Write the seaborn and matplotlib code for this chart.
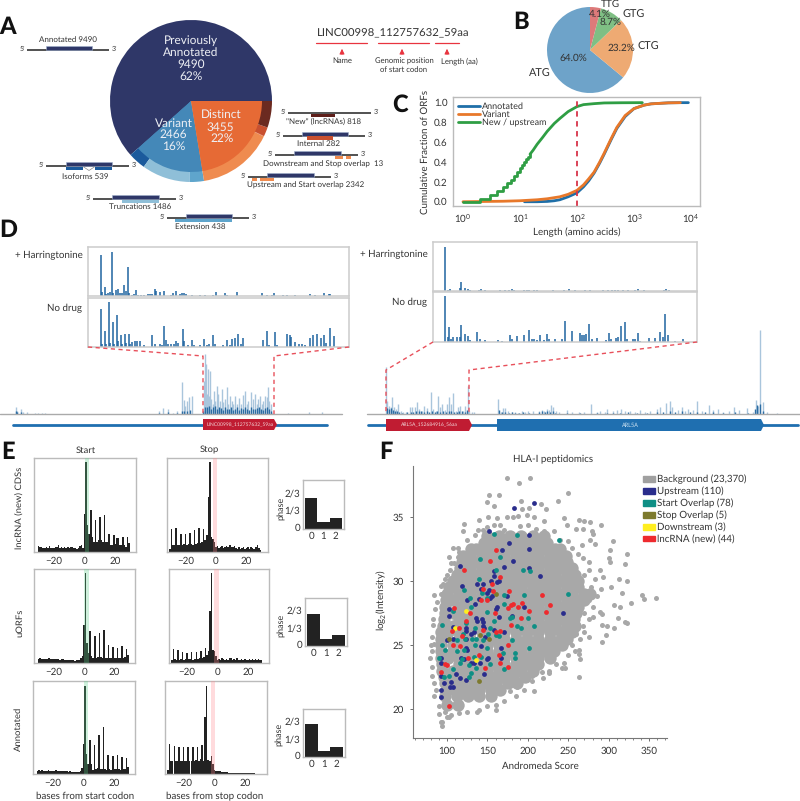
import numpy as np
import pandas as pd
import matplotlib
matplotlib.use('Agg')
import matplotlib.pyplot as plt
from matplotlib.patches import Patch, Polygon, Rectangle
from matplotlib.ticker import MultipleLocator, NullFormatter
import seaborn as sns

# panel A
orf_classes = [9490, 2466, 3455]
orf_subclasses = [9490, 539, 1486, 438, 2342, 13, 282, 818]

# panel B
codons = ['ATG', 'CTG', 'GTG', 'TTG']
codon_pct = [64.0, 23.2, 8.7, 4.1]

# panel C
annot_len = [12, 20, 30, 40, 50, 70, 100, 130, 160, 200, 250, 300, 400, 500, 700, 1000, 1500, 2000, 4000, 6500, 9000]
annot_cdf = [0, 0, 0.003, 0.01, 0.02, 0.05, 0.09, 0.15, 0.21, 0.29, 0.39, 0.48, 0.63, 0.74, 0.86, 0.94, 0.975, 0.988, 0.998, 1.0, 1.0]
variant_len = [1, 5, 10, 20, 30, 50, 70, 100, 130, 160, 200, 250, 300, 400, 500, 700, 1000, 1500, 2000, 4000, 6500]
variant_cdf = [0, 0.005, 0.01, 0.02, 0.03, 0.05, 0.075, 0.115, 0.17, 0.23, 0.3, 0.4, 0.49, 0.64, 0.75, 0.87, 0.94, 0.975, 0.988, 0.998, 1.0]
new_len = [1, 2, 3, 4, 5, 6, 7, 8, 9, 10, 11, 12, 13, 14, 15, 17, 20, 25, 30, 40, 50, 70, 100, 130, 200, 300, 600, 1400]
new_cdf = [0, 0.03, 0.07, 0.11, 0.15, 0.19, 0.22, 0.26, 0.30, 0.34, 0.37, 0.40, 0.43, 0.45, 0.48, 0.52, 0.58, 0.65, 0.71, 0.79, 0.84, 0.91, 0.96, 0.98, 0.99, 0.997, 0.999, 1.0]

# panel D, read in pixels of a 3x view of the figure
harr_l_x = [303, 306, 315, 318, 326, 330, 338, 341, 350, 355, 362, 366, 374, 378, 386, 389, 397, 402, 410, 415, 425, 432, 445, 450, 458, 465, 469, 480, 492, 513, 518, 527, 540, 546, 552, 558, 575, 600, 615, 640, 647, 676, 682, 712, 787, 800, 815, 822, 848, 860, 885, 930, 945, 972, 985, 990]
harr_l_h = [123, 12, 28, 6, 10, 12, 132, 8, 18, 22, 10, 10, 34, 14, 85, 10, 4, 6, 18, 3, 3, 3, 5, 5, 6, 22, 16, 12, 14, 3, 8, 14, 5, 9, 8, 6, 3, 3, 3, 4, 12, 8, 4, 11, 8, 4, 4, 10, 4, 3, 4, 5, 4, 8, 6, 7]
nodrug_l_x = [303, 307, 315, 320, 327, 331, 339, 343, 351, 356, 363, 368, 375, 380, 387, 391, 397, 405, 412, 422, 432, 458, 464, 480, 485, 492, 497, 503, 512, 522, 528, 535, 548, 552, 563, 576, 582, 600, 612, 620, 628, 640, 646, 668, 680, 690, 695, 706, 713, 722, 730, 788, 800, 806, 825, 832, 860, 868, 873, 885, 895, 905, 915, 930, 938, 950, 962, 970, 978, 990, 1000]
nodrug_l_h = [112, 10, 48, 8, 133, 12, 75, 8, 96, 18, 36, 10, 38, 12, 40, 8, 15, 17, 18, 18, 5, 36, 8, 10, 5, 62, 20, 10, 8, 8, 18, 12, 55, 18, 6, 20, 5, 6, 24, 6, 8, 36, 8, 6, 20, 6, 24, 28, 40, 8, 28, 22, 48, 5, 46, 5, 40, 36, 30, 16, 8, 10, 6, 28, 36, 38, 28, 36, 12, 58, 32]
harr_r_x = [197, 204, 211, 240, 245, 257, 264, 272, 297, 303, 317, 360, 375, 388, 396, 402, 432, 440, 447, 462, 472, 520, 552, 568, 585, 615, 630, 670, 685, 695, 705, 715, 730, 745, 765, 772, 790, 850, 858, 865]
harr_r_h = [132, 4, 7, 8, 28, 10, 5, 3, 3, 5, 3, 3, 3, 4, 6, 3, 3, 3, 4, 3, 3, 2, 2, 5, 2, 2, 2, 3, 3, 3, 4, 4, 2, 2, 4, 5, 2, 4, 6, 4]
nodrug_r_x = [197, 205, 209, 215, 221, 233, 240, 245, 257, 264, 272, 293, 302, 317, 355, 365, 389, 395, 412, 432, 448, 455, 462, 470, 480, 492, 500, 507, 526, 545, 556, 576, 600, 605, 612, 617, 628, 635, 650, 677, 687, 692, 708, 715, 724, 735, 742, 757, 765, 772, 780, 807, 823, 840, 847, 855, 863, 885, 908]
nodrug_r_h = [133, 16, 44, 10, 16, 14, 14, 50, 24, 18, 6, 28, 10, 6, 6, 3, 20, 8, 18, 20, 34, 10, 8, 6, 20, 6, 24, 10, 8, 8, 62, 32, 26, 20, 20, 22, 52, 8, 13, 6, 26, 10, 12, 16, 46, 58, 10, 8, 10, 26, 4, 12, 12, 28, 16, 82, 20, 4, 8]

track_l_x = [47, 52, 62, 70, 82, 105, 115, 125, 135, 478, 490, 505, 520, 530, 547, 551, 556, 562, 568, 575, 608, 612, 615, 618, 621, 624, 627, 630, 634, 638, 642, 646, 650, 655, 660, 665, 670, 675, 680, 685, 690, 695, 700, 705, 710, 716, 722, 730, 735, 740, 745, 752, 758, 765, 770, 775, 780, 785, 790, 795, 800, 805, 808, 812, 817, 865, 928, 965]
track_l_h = [22, 10, 16, 6, 6, 3, 3, 3, 3, 8, 18, 16, 3, 10, 95, 42, 25, 40, 50, 55, 10, 100, 180, 150, 60, 135, 55, 130, 45, 30, 70, 40, 85, 60, 40, 75, 35, 45, 80, 30, 55, 40, 30, 55, 30, 48, 30, 58, 68, 30, 40, 65, 45, 60, 30, 45, 55, 30, 40, 55, 50, 80, 40, 30, 3, 2, 5, 5]
dark_l_x = [47, 52, 62, 478, 505, 530, 547, 551, 562, 570, 610, 616, 622, 628, 634, 640, 646, 652, 658, 664, 670, 676, 682, 688, 694, 700, 706, 712, 718, 724, 730, 736, 742, 748, 754, 760, 766, 772, 778, 784, 790, 796, 802, 808, 814]
dark_l_h = [8, 5, 5, 4, 5, 4, 10, 8, 10, 12, 10, 22, 20, 25, 15, 20, 24, 15, 22, 18, 12, 20, 16, 14, 22, 12, 15, 20, 12, 18, 14, 22, 15, 12, 20, 14, 16, 18, 22, 15, 12, 18, 22, 16, 10]
track_r_x = [18, 22, 27, 32, 37, 42, 47, 55, 62, 70, 78, 90, 97, 104, 112, 118, 127, 133, 142, 152, 160, 168, 175, 180, 187, 196, 202, 208, 213, 219, 228, 234, 240, 250, 256, 263, 267, 275, 282, 354, 362, 370, 376, 385, 395, 405, 415, 425, 435, 445, 460, 478, 485, 492, 500, 507, 514, 520, 527, 536, 560, 575, 597, 612, 634, 650, 660, 675, 682, 700, 710, 722, 735, 750, 765, 780, 795, 810, 830, 840, 858, 870, 877, 893, 905, 915, 925, 940, 952, 965, 988, 1000, 1015, 1030, 1048, 1063, 1078, 1102, 1118, 1128, 1134, 1141, 1150, 1162, 1190]
track_r_h = [140, 40, 25, 20, 50, 20, 15, 30, 8, 6, 5, 20, 22, 20, 35, 15, 10, 25, 18, 65, 15, 10, 55, 22, 30, 12, 30, 50, 30, 62, 10, 22, 25, 8, 25, 85, 10, 6, 5, 45, 6, 18, 18, 8, 5, 6, 4, 8, 5, 10, 8, 10, 12, 8, 15, 12, 28, 22, 10, 5, 12, 5, 5, 5, 30, 5, 10, 5, 15, 8, 12, 15, 10, 8, 5, 12, 5, 8, 15, 22, 32, 38, 22, 12, 22, 10, 15, 12, 38, 10, 28, 12, 15, 5, 8, 20, 12, 18, 5, 42, 25, 253, 35, 5, 2]
dark_r_x = [20, 26, 32, 38, 44, 50, 58, 66, 80, 92, 100, 108, 116, 124, 132, 140, 148, 156, 164, 172, 180, 190, 198, 206, 214, 222, 230, 238, 246, 254, 262, 356, 366, 376, 386, 396, 406, 416, 430, 446, 478, 486, 494, 502, 510, 518, 526, 560, 600, 652, 680, 700, 720, 745, 770, 800, 830, 850, 870, 885, 905, 930, 950, 975, 1000, 1030, 1065, 1105, 1125, 1130, 1141, 1150]
dark_r_h = [18, 15, 18, 12, 10, 8, 6, 4, 5, 7, 6, 8, 10, 8, 6, 9, 6, 8, 7, 9, 6, 8, 7, 9, 10, 7, 6, 10, 8, 6, 12, 12, 6, 5, 4, 5, 4, 4, 5, 4, 5, 8, 6, 8, 5, 9, 4, 3, 3, 4, 3, 4, 4, 5, 3, 4, 5, 7, 9, 6, 8, 5, 7, 5, 5, 3, 7, 4, 14, 28, 30, 10]

# panel E, positions -30..29
bases = list(range(-30, 30))
start_new = [18, 15, 14, 12, 13, 15, 12, 18, 12, 13, 11, 14, 15, 22, 12, 14, 13, 15, 12, 14, 11, 15, 16, 12, 13, 10, 12, 18, 22, 12,
             115, 270, 80, 55, 125, 45, 30, 97, 30, 35, 105, 35, 30, 112, 30, 30, 55, 22, 20, 50, 25, 42, 42, 20, 20, 45, 20, 15, 45, 28]
stop_new = [10, 70, 20, 22, 72, 20, 22, 55, 20, 25, 55, 22, 25, 58, 25, 22, 65, 25, 28, 72, 28, 30, 70, 35, 50, 165, 270, 45, 40, 30,
            15, 18, 12, 15, 18, 12, 15, 18, 14, 20, 15, 14, 18, 12, 10, 14, 10, 12, 14, 10, 12, 14, 10, 15, 12, 10, 14, 20, 12, 5]
start_u = [12, 14, 12, 11, 13, 12, 11, 14, 13, 12, 11, 12, 13, 11, 10, 12, 11, 10, 9, 10, 9, 8, 9, 8, 7, 8, 8, 9, 14, 22,
           115, 270, 60, 30, 95, 20, 15, 82, 15, 18, 90, 18, 15, 100, 15, 15, 55, 15, 15, 48, 15, 15, 45, 15, 15, 50, 15, 18, 42, 25]
stop_u = [8, 42, 12, 10, 38, 10, 12, 32, 10, 12, 30, 12, 12, 32, 10, 12, 34, 12, 15, 35, 15, 18, 45, 25, 35, 155, 270, 40, 35, 22,
          10, 12, 10, 14, 12, 10, 12, 10, 14, 16, 10, 12, 10, 14, 10, 8, 12, 10, 12, 10, 8, 12, 10, 12, 10, 12, 10, 12, 10, 8]
start_a = [10, 11, 10, 11, 10, 9, 10, 11, 10, 10, 9, 10, 11, 10, 9, 10, 9, 8, 9, 8, 7, 8, 7, 6, 6, 5, 6, 7, 9, 18,
           90, 265, 60, 30, 103, 30, 12, 88, 15, 18, 118, 15, 15, 140, 15, 12, 58, 15, 12, 55, 14, 14, 58, 14, 13, 52, 14, 15, 48, 22]
stop_a = [12, 90, 40, 40, 85, 40, 40, 82, 40, 40, 82, 38, 40, 82, 38, 40, 82, 40, 42, 80, 40, 45, 88, 40, 170, 265, 42, 38, 55, 30,
          12, 10, 9, 8, 8, 7, 6, 5, 5, 4, 4, 3, 3, 3, 3, 3, 3, 2, 2, 2, 2, 2, 2, 2, 2, 2, 2, 1, 1, 1]
phase_labels = ['0', '1', '2']
phase_new = [0.595, 0.137, 0.215]
phase_u = [0.627, 0.13, 0.215]
phase_a = [0.647, 0.11, 0.196]

# panel F, background drawn as core blobs per intensity row plus single rim dots
core_rows = [20.3, 21, 21.5, 22, 22.5, 23, 23.5, 24, 24.5, 25, 25.5, 26, 26.5, 27, 27.5, 28, 28.5, 29, 29.5, 30, 30.5, 31, 31.5, 32, 32.5, 33, 33.5]
core_scores = [
    [100, 114],
    [98, 112, 126, 140, 154],
    [100, 112, 126, 140, 154, 165],
    [97, 105, 119, 133, 147, 161, 175, 187],
    [96, 112, 126, 140, 154, 168, 182, 196],
    [94, 108, 122, 136, 150, 164, 178, 192, 206],
    [94, 115, 129, 143, 157, 171, 185, 199, 213],
    [93, 101, 115, 129, 143, 157, 171, 185, 199, 213, 227],
    [93, 108, 122, 136, 150, 164, 178, 192, 206, 220, 232],
    [93, 108, 122, 136, 150, 164, 178, 192, 206, 220, 234, 242],
    [93, 115, 129, 143, 157, 171, 185, 199, 213, 227, 241, 248],
    [93, 101, 115, 129, 143, 157, 171, 185, 199, 213, 227, 241, 254],
    [95, 108, 122, 136, 150, 164, 178, 192, 206, 220, 234, 248, 258],
    [96, 115, 129, 143, 157, 171, 185, 199, 213, 227, 241, 255, 257],
    [97, 108, 122, 136, 150, 164, 178, 192, 206, 220, 234, 248, 260],
    [98, 115, 129, 143, 157, 171, 185, 199, 213, 227, 241, 255, 262],
    [99, 108, 122, 136, 150, 164, 178, 192, 206, 220, 234, 248, 262, 270],
    [100, 115, 129, 143, 157, 171, 185, 199, 213, 227, 241, 255, 269, 277],
    [103, 108, 122, 136, 150, 164, 178, 192, 206, 220, 234, 248, 262],
    [108, 115, 129, 143, 157, 171, 185, 199, 213, 227, 241, 255, 262],
    [112, 122, 136, 150, 164, 178, 192, 206, 220, 234, 248, 258],
    [116, 129, 143, 157, 171, 185, 199, 213, 227, 241, 254],
    [118, 122, 136, 150, 164, 178, 192, 206, 220, 234, 248],
    [120, 129, 143, 157, 171, 185, 199, 213, 227, 241, 247],
    [130, 136, 150, 164, 178, 192, 206, 220, 234, 240],
    [146, 157, 171, 185, 199, 213, 224],
    [150, 164, 178, 192, 206, 220],
]
rim_score = [174, 189, 203, 249, 152, 164, 149, 158, 192, 216, 237, 223, 193, 201, 140, 151, 162, 174, 182, 188, 199, 207, 245, 263, 270, 277, 220, 248, 260, 268, 291, 121, 120, 138, 145, 158, 232, 279, 280, 305, 302, 322, 300, 301, 320, 277, 283, 267, 108, 114, 103, 114, 104, 109, 98, 84, 92, 93, 289, 276, 293, 303, 313, 322, 316, 341, 344, 358, 327, 307, 314, 265, 289, 292, 281, 311, 320, 322, 292, 298, 307, 296, 292, 276, 260, 263, 263, 265, 242, 246, 226, 226, 219, 205, 199, 207, 263, 186, 178, 137, 160, 94, 92, 94, 79, 82, 82, 83, 81, 84, 84, 103, 105, 90,
             275, 270, 283, 278, 290, 285, 275, 280, 270, 275, 268, 270, 265, 255, 258, 250, 245, 235, 225, 218, 205, 195, 185, 170, 160, 150, 140, 125, 115, 100, 97, 90, 86, 84, 82, 80, 83, 85, 88, 95, 100, 105, 115, 125, 135, 150, 165, 170, 190, 200, 210, 220, 240, 250, 255, 262, 268]
rim_log2 = [38.1, 37.7, 38.1, 36.9, 36.7, 36.7, 36.2, 35.9, 36.3, 36.0, 36.3, 35.6, 35.6, 35.7, 34.8, 35.0, 34.9, 35.0, 35.0, 35.1, 35.2, 35.0, 34.9, 34.8, 34.7, 34.6, 34.7, 34.4, 34.1, 34.1, 34.4, 34.5, 33.9, 34.0, 34.0, 34.4, 33.9, 33.9, 33.7, 33.1, 32.4, 32.1, 31.8, 31.5, 31.3, 33.2, 32.9, 32.8, 32.6, 32.6, 31.9, 31.9, 30.9, 31.4, 30.2, 28.9, 29.0, 29.6, 30.9, 30.9, 30.3, 29.5, 30.2, 30.0, 29.1, 28.9, 28.6, 28.7, 28.3, 28.1, 28.0, 28.1, 27.6, 27.4, 27.2, 27.1, 26.8, 26.7, 26.6, 26.5, 26.3, 25.8, 25.2, 25.6, 25.9, 24.6, 24.3, 23.9, 23.2, 23.2, 23.0, 22.8, 22.4, 22.6, 22.3, 21.4, 22.5, 21.7, 21.4, 19.8, 19.9, 19.0, 19.0, 18.7, 24.0, 23.3, 22.6, 26.6, 25.6, 25.1, 21.0, 19.4, 19.5, 19.6,
            31.5, 30.5, 30.2, 29.5, 29.4, 28.8, 28.5, 28.0, 27.5, 27.0, 26.5, 26.0, 25.5, 25.0, 24.5, 24.2, 23.6, 23.5, 23.8, 22.9, 22.2, 21.5, 21.0, 20.6, 20.3, 20.2, 19.9, 19.8, 19.7, 19.4, 19.8, 20.2, 21.5, 22.0, 24.5, 25.0, 27.0, 27.8, 28.4, 29.8, 30.5, 31.4, 32.3, 33.2, 33.6, 34.2, 34.4, 34.0, 34.3, 34.4, 34.1, 33.9, 33.2, 33.1, 32.6, 32.1, 31.8]
up_score = [208, 183, 152, 202, 177, 168, 201, 116, 182, 171, 202, 215, 158, 158, 154, 162, 164, 137, 145, 119, 142, 152, 149, 153, 156, 139, 125, 135, 174, 162, 161, 195, 243, 102, 102, 181, 164, 136, 137, 143, 144, 145, 146, 124, 124, 107, 100, 107, 123, 130, 134, 171, 158, 147, 142, 123, 125, 167, 167, 117, 121, 93, 93, 130, 134, 141, 149, 151, 93, 111, 116, 123, 146, 105, 96, 92, 104, 107, 93]
up_log2 = [36.1, 35.7, 33.9, 33.6, 33.0, 32.4, 32.5, 31.2, 31.6, 31.1, 31.0, 30.4, 30.8, 30.4, 30.0, 29.9, 30.0, 29.8, 29.8, 29.6, 29.4, 29.3, 29.1, 28.7, 28.8, 28.6, 28.5, 28.2, 28.8, 28.0, 27.8, 28.0, 27.5, 27.8, 27.3, 27.3, 27.2, 27.1, 26.9, 27.0, 26.8, 26.5, 26.3, 26.3, 26.1, 26.4, 25.4, 25.5, 25.5, 25.9, 26.0, 26.0, 26.2, 25.6, 24.9, 24.8, 24.6, 24.8, 24.0, 24.0, 23.9, 24.0, 23.6, 23.6, 23.6, 23.6, 23.9, 24.0, 22.6, 22.7, 22.4, 22.3, 22.7, 22.1, 22.0, 21.5, 21.7, 21.7, 20.9]
so_score = [158, 186, 239, 141, 166, 160, 194, 203, 140, 121, 143, 128, 149, 170, 195, 249, 170, 130, 107, 150, 180, 178, 200, 94, 124, 158, 186, 191, 207, 135, 120, 153, 151, 160, 164, 131, 136, 145, 112, 122, 94, 98, 112, 121, 135, 150, 181, 202, 169, 184, 184, 90, 134, 142, 153, 119, 116, 127, 136, 108, 171, 130, 127, 103, 96]
so_log2 = [33.7, 33.6, 33.2, 31.7, 31.9, 30.9, 30.9, 30.8, 30.2, 29.3, 29.1, 28.7, 28.7, 28.9, 28.9, 29.0, 28.2, 28.0, 27.7, 27.6, 27.2, 27.1, 27.1, 26.6, 26.7, 26.9, 26.5, 26.3, 26.5, 26.3, 25.9, 26.3, 25.9, 25.8, 25.7, 25.5, 25.5, 25.4, 25.4, 25.5, 25.0, 24.6, 24.5, 24.6, 25.0, 24.8, 25.4, 24.8, 24.4, 24.4, 24.0, 24.0, 24.1, 24.1, 23.5, 23.9, 23.6, 23.4, 23.2, 23.1, 23.1, 22.8, 22.5, 22.6, 22.5]
stopo_score = [160, 103, 141, 152, 140]
stopo_log2 = [29.0, 25.5, 25.8, 25.5, 22.2]
down_score = [123, 110, 136]
down_log2 = [27.7, 26.3, 23.8]
lnc_score = [161, 153, 121, 165, 145, 156, 157, 177, 217, 142, 150, 109, 176, 179, 182, 188, 193, 227, 202, 222, 128, 159, 191, 124, 115, 106, 179, 144, 160, 166, 119, 175, 107, 116, 126, 139, 164, 165, 92, 97, 100, 147, 176, 102]
lnc_log2 = [32.4, 31.6, 30.9, 30.3, 29.4, 29.8, 29.2, 29.2, 28.9, 28.5, 28.5, 27.9, 27.9, 28.1, 28.2, 28.0, 28.3, 28.1, 27.7, 27.6, 27.5, 27.5, 27.1, 26.9, 26.3, 26.1, 26.6, 26.2, 26.0, 26.1, 25.7, 25.0, 25.0, 24.9, 24.0, 24.2, 24.2, 23.6, 22.9, 23.5, 23.4, 23.2, 23.3, 20.2]

W, H = 800, 801
sns.set_theme(style='white')
plt.rcParams['font.family'] = 'Lato'
plt.rcParams['mathtext.default'] = 'regular'
plt.rcParams['text.hinting'] = 'no_hinting'
plt.rcParams['text.color'] = '#333333'
plt.rcParams['axes.labelcolor'] = '#333333'
plt.rcParams['xtick.color'] = '#333333'
plt.rcParams['ytick.color'] = '#333333'

fig = plt.figure(figsize=(W / 100, H / 100), dpi=100)


def axpx(x0, y0, x1, y1):
    return fig.add_axes([x0 / W, 1 - y1 / H, (x1 - x0) / W, (y1 - y0) / H])


# overlay in picture pixels for schematics and labels
ov = axpx(0, 0, W, H)
ov.set_xlim(0, W)
ov.set_ylim(H, 0)
ov.axis('off')
ov.set_zorder(10)


def txt(x, y, s, size=6.3, ha='center', color='#333333', **kw):
    ov.text(x, y, s, fontsize=size, ha=ha, va='center', color=color, **kw)


for x, y, s in [(8, 27, 'A'), (521, 22, 'B'), (400, 105, 'C'), (8, 230, 'D'), (8, 452, 'E'), (386, 452, 'F')]:
    txt(x, y, s, size=17, color='#111111', fontweight='black')

# A pie
navy = '#2f3768'
ax = axpx(110, 20, 272, 182)
ax.pie(orf_subclasses, startangle=0, radius=1, wedgeprops={'linewidth': 0},
       colors=[navy, '#1b5a9c', '#8fbfd8', '#5fa5cc', '#ef8b4f', '#e8703f', '#c9502f', '#6b2a20'])
ax.pie(orf_classes, startangle=0, radius=71 / 81, wedgeprops={'linewidth': 0},
       colors=[navy, '#4488b8', '#e66a35'])
ax.set(xlim=(-1, 1), ylim=(-1, 1))

for x, y, s in [(191, 41, 'Previously'), (191, 53, 'Annotated'), (191, 65, '9490'), (191, 76, '62%'),
                (174, 124, 'Variant'), (173, 135, '2466'), (174, 147, '16%'),
                (221, 115, 'Distinct'), (220, 128, '3455'), (222, 139, '22%')]:
    txt(x, y, s, size=8.6, color='#eef0f5')


def gene(x0, x1, y, box, label, lx, ly, extras=()):
    ov.plot([x0, x1], [y, y], color='#222222', lw=1.1, solid_capstyle='butt')
    txt(x0 - 5, y - 1, "5'", size=5)
    txt(x1 + 5, y - 1, "3'", size=5)
    if box:
        ov.add_patch(Rectangle((box[0], y - 4.2), box[1] - box[0], 4.2, fc=navy, ec='#9fb0cc', lw=0.4, zorder=3))
    for a, b, c in extras:
        ov.add_patch(Rectangle((a, y + 0.7), b - a, 3.6, fc=c, lw=0, zorder=3))
    txt(lx, ly, label, size=5.8)


gene(27, 109, 49.7, (46, 92), 'Annotated 9490', 68, 40)
gene(288, 371, 113, None, '"New" (lncRNAs) 818', 324, 122, [(311, 335, '#5e1f1a')])
gene(283, 365, 135.7, (302, 348), 'Internal 282', 319, 143.7, [(307, 333, '#c9502f')])
gene(275, 358, 155, (294, 341), 'Downstream and Stop overlap  13', 323, 164, [(335, 343, '#ef8b4f'), (346, 351, '#ef8b4f')])
gene(248, 331, 177, (267, 314), 'Upstream and Start overlap 2342', 306, 185, [(252, 257, '#ef8b4f'), (260, 274, '#ef8b4f')])
gene(46, 129, 166, (66, 112), 'Isoforms 539', 85, 177, [(66, 83, '#1b5a9c'), (95, 112, '#1b5a9c')])
gene(93, 176, 199, (112, 159), 'Truncations 1486', 140, 207, [(122, 159, '#8fbfd8')])
gene(167, 249, 218, (186, 232), 'Extension 438', 200, 227, [(175, 232, '#5fa5cc')])
ov.plot([83, 89, 95], [166.5, 170.5, 166.5], color='#888888', lw=0.5)

# name schematic
txt(317, 33, 'LINC00998_112757632_59aa', size=8.2, ha='left')
red = '#e8343f'
for a, b in [(316, 367), (378, 429), (435, 459)]:
    ov.plot([a, b], [42.7, 42.7], color=red, lw=0.9)
for x in [342, 402, 447]:
    ov.annotate('', xy=(x, 46), xytext=(x, 57), arrowprops=dict(arrowstyle='-|>,head_width=0.12,head_length=0.25', color=red, lw=0.7))
txt(342, 61, 'Name', size=5.5)
txt(404, 61, 'Genomic position', size=5.5)
txt(404, 70, 'of start codon', size=5.5)
txt(459, 61, 'Length (aa)', size=5.5)

# B pie
ax = axpx(547, 7, 633, 93)
ax.pie(codon_pct, startangle=90, counterclock=True, radius=1, wedgeprops={'linewidth': 0},
       colors=['#6ea3c9', '#eeaa73', '#7fbf84', '#dd7a7a'])
ax.set(xlim=(-1, 1), ylim=(-1, 1))
for x, y, s, size in [(573, 58, '64.0%', 7.2), (621, 48, '23.2%', 7.2), (611, 22, '8.7%', 7.2), (600, 14, '4.1%', 7.2),
                      (540, 74, 'ATG', 7.8), (648, 47, 'CTG', 7.8), (634, 15, 'GTG', 7.8), (610, 4.5, 'TTG', 7.2)]:
    txt(x, y, s, size=size)

# C cumulative curves
ax = axpx(453, 97, 700, 206)
sns.lineplot(x=annot_len, y=annot_cdf, color='#1f6fa8', lw=2, label='Annotated', ax=ax, estimator=None, errorbar=None)
sns.lineplot(x=variant_len, y=variant_cdf, color='#e8782a', lw=2, label='Variant', ax=ax, estimator=None, errorbar=None)
sns.lineplot(x=new_len[:15], y=new_cdf[:15], color='#2f9e44', lw=2, ax=ax, estimator=None, errorbar=None, drawstyle='steps-post')
sns.lineplot(x=new_len[14:], y=new_cdf[14:], color='#2f9e44', lw=2, label='New / upstream', ax=ax, estimator=None, errorbar=None)
ax.axvline(100, color='#d8344a', ls=(0, (3, 2.5)), lw=1.3)
ax.set_xscale('log')
ax.set_xlim(10 ** -0.175, 10 ** 4.158)
ax.set_ylim(-0.043, 1.057)
ax.set_yticks([0, 0.2, 0.4, 0.6, 0.8, 1.0])
ax.set_xticks([1, 10, 100, 1000, 10000])
ax.xaxis.set_minor_formatter(NullFormatter())
ax.tick_params(axis='both', which='major', labelsize=7, length=0, pad=4)
ax.tick_params(axis='both', which='minor', length=0)
ax.set_xlabel('Length (amino acids)', fontsize=7, labelpad=2)
ax.set_ylabel('Cumulative Fraction of ORFs', fontsize=7, labelpad=3)
for s in ax.spines.values():
    s.set_color('#bbbbbb')
    s.set_linewidth(1)
ax.legend(loc='upper left', frameon=False, fontsize=6.5, borderaxespad=0.2, labelspacing=0, handlelength=2.4, handletextpad=0.2)


# D inset tracks
def inset(x0, y0, x1, y1, xz0, xz1, xs, hs):
    a = axpx(x0, y0, x1, y1)
    a.vlines(xs, 0, hs, color='#1f64a0', lw=1.1)
    a.set_xlim(xz0, xz1)
    a.set_ylim(0, 146)
    a.set_xticks([])
    a.set_yticks([])
    for s in a.spines.values():
        s.set_color('#cccccc')
        s.set_linewidth(1.1)


inset(88, 247, 349, 296, 265, 1046, harr_l_x, harr_l_h)
inset(88, 298, 349, 347, 265, 1046, nodrug_l_x, nodrug_l_h)
inset(433, 242, 697, 291, 160, 950, harr_r_x, harr_r_h)
inset(433, 292, 697, 342, 160, 950, nodrug_r_x, nodrug_r_h)
txt(83, 255, '+ Harringtonine', size=7, ha='right')
txt(82, 308, 'No drug', size=7, ha='right')
txt(428, 254, '+ Harringtonine', size=7, ha='right')
txt(427, 302, 'No drug', size=7, ha='right')

for x0, x1, zmin, zmax, xs, hs, dxs, dhs in [(0, 342, 0, 1026, track_l_x, track_l_h, dark_l_x, dark_l_h),
                                             (367, 800, -39, 1260, track_r_x, track_r_h, dark_r_x, dark_r_h)]:
    a = axpx(x0, 328, x1, 414)
    a.vlines(xs, 0, hs, color='#a9c5dc', lw=1.0)
    a.vlines(dxs, 0, dhs, color='#2b6ca3', lw=1.0)
    a.set_xlim(zmin, zmax)
    a.set_ylim(0, 258)
    a.axis('off')

ov.plot([0, 342], [414, 414], color='#aaaaaa', lw=1)
ov.plot([367, 800], [414, 414], color='#aaaaaa', lw=1)
dash = dict(color='#e8505b', lw=1, ls=(0, (3, 2.5)))
ov.plot([88, 203, 203], [347, 356, 414], **dash)
ov.plot([349, 274, 274], [347, 356, 414], **dash)
ov.plot([433, 386, 386], [342, 370, 414], **dash)
ov.plot([697, 469, 469], [342, 370, 414], **dash)

# gene models
blue = '#1f6fb0'
ov.plot([13, 327], [424.5, 424.5], color=blue, lw=2)
ov.plot([368, 798], [425, 425], color=blue, lw=2)


def gene_box(x0, x1, y0, y1, c, label, size=3.6):
    ov.add_patch(Polygon([(x0, y0), (x1 - 3, y0), (x1, (y0 + y1) / 2), (x1 - 3, y1), (x0, y1)], fc=c, lw=0, zorder=3))
    ov.text((x0 + x1) / 2, (y0 + y1) / 2, label, fontsize=size, ha='center', va='center', zorder=4,
            color='#f2d5d8' if c != blue else '#cfe3f2')


gene_box(203, 277, 419, 430, '#c01c32', 'LINC00998_112757632_59aa')
gene_box(386, 472, 419, 431, '#c01c32', 'ARL5A_152684916_56aa')
gene_box(497, 764, 419, 431, blue, 'ARL5A', size=4)


# E read profiles
def profile(x0, y0, x1, y1, vals, span, span_col, xlim, ylim):
    a = axpx(x0, y0, x1, y1)
    sns.barplot(x=bases, y=vals, native_scale=True, width=1, color='#222222', saturation=1, linewidth=0, ax=a)
    a.axvspan(span[0], span[1], color=span_col, alpha=0.3, lw=0, zorder=5)
    a.set_xlim(*xlim)
    a.set_ylim(0, ylim)
    a.set_xticks([-20, 0, 20])
    a.set_xticklabels(['\u221220', '0', '20'])
    a.set_yticks([])
    a.set_xlabel('')
    a.set_ylabel('')
    a.tick_params(axis='x', labelsize=7, length=0, pad=3)
    for s in a.spines.values():
        s.set_color('#bbbbbb')
        s.set_linewidth(1)
    return a


green = '#5fd08c'
pink = '#ff8a8f'
profile(34, 458, 136, 552, start_new, (0, 3), green, (-33, 33.5), 282)
profile(167, 458, 268, 552, stop_new, (-2, 0.8), pink, (-32, 34), 282)
profile(34, 569, 135, 663, start_u, (0, 3), green, (-33, 33.5), 282)
profile(169, 569, 269, 663, stop_u, (-2, 0.8), pink, (-32, 34), 282)
profile(33, 681, 135, 774, start_a, (0, 3), green, (-33, 33.5), 279)
profile(165, 681, 267, 774, stop_a, (-2.5, 0.3), pink, (-32, 34), 279)


def phase(x0, y0, x1, y1, vals):
    a = axpx(x0, y0, x1, y1)
    sns.barplot(x=phase_labels, y=vals, width=1, color='#222222', saturation=1, linewidth=0, ax=a)
    a.set_xlim(-0.67, 2.67)
    a.set_ylim(0, 0.954)
    a.set_yticks([0.04, 0.37, 0.71])
    a.set_yticklabels(['0', '1/3', '2/3'])
    a.set_xlabel('')
    a.set_ylabel('')
    a.tick_params(axis='both', labelsize=7, length=0, pad=2)
    for s in a.spines.values():
        s.set_color('#bbbbbb')
        s.set_linewidth(1)


phase(303, 480, 344, 529, phase_new)
phase(305, 598, 347, 646, phase_u)
phase(303, 709, 345, 757, phase_a)
for x, y in [(281, 508), (281, 625), (279, 734)]:
    txt(x, y, 'phase', size=6.5, rotation=90)
for x, y, s in [(20, 508, 'lncRNA (new) CDSs'), (20, 623, 'uORFs'), (18, 729, 'Annotated')]:
    txt(x, y, s, size=6.8, rotation=90)
txt(86, 450, 'Start', size=6.8)
txt(209, 450, 'Stop', size=6.8)
txt(85, 796, 'bases from start codon', size=7)
txt(215, 796, 'bases from stop codon', size=7)

# F peptidomics scatter
ax = axpx(413, 466, 667, 738)
core = pd.DataFrame({'score': [s for row in core_scores for s in row],
                     'log2': [r for r, row in zip(core_rows, core_scores) for _ in row]})
sns.scatterplot(data=core, x='score', y='log2', color='#a8a8a8', s=80, linewidth=0, ax=ax)
sns.scatterplot(x=rim_score, y=rim_log2, color='#a8a8a8', s=13, linewidth=0, ax=ax)
groups = [('Upstream (110)', up_score, up_log2, '#2a2d8c'), ('Start Overlap (78)', so_score, so_log2, '#0f8f85'),
          ('Stop Overlap (5)', stopo_score, stopo_log2, '#7d7a2e'), ('Downstream (3)', down_score, down_log2, '#ffee20'),
          ('lncRNA (new) (44)', lnc_score, lnc_log2, '#ee2a2e')]
for _, xs, ys, c in groups:
    sns.scatterplot(x=xs, y=ys, color=c, s=12, linewidth=0, ax=ax, zorder=4)
ax.set_xlim(58, 372)
ax.set_ylim(17.73, 39)
ax.set_xticks([100, 150, 200, 250, 300, 350])
ax.set_yticks([20, 25, 30, 35])
ax.xaxis.set_minor_locator(MultipleLocator(10))
ax.tick_params(axis='both', which='major', labelsize=7, length=2.5, width=0.6, color='#555555', pad=4, bottom=True, left=True)
ax.tick_params(axis='x', which='minor', length=1.5, width=0.5, color='#555555', bottom=True)
ax.set_xlabel('Andromeda Score', fontsize=7, labelpad=4)
ax.set_ylabel('')
for k in ['top', 'right']:
    ax.spines[k].set_visible(False)
for k in ['left', 'bottom']:
    ax.spines[k].set_color('#777777')
    ax.spines[k].set_linewidth(0.8)
txt(381, 600, r'log$_2$(Intensity)', size=7, rotation=90)
txt(553, 459, 'HLA-I peptidomics', size=7)
handles = [Patch(color='#a0a0a0', label='Background (23,370)')] + [Patch(color=g[3], label=g[0]) for g in groups]
ax.legend(handles=handles, loc='upper left', bbox_to_anchor=(0.905, 0.968), frameon=False, fontsize=7,
          labelspacing=0.26, handlelength=1.25, handleheight=0.5, handletextpad=0.25, borderpad=0, borderaxespad=0)

fig.savefig('out.png', dpi=100)
